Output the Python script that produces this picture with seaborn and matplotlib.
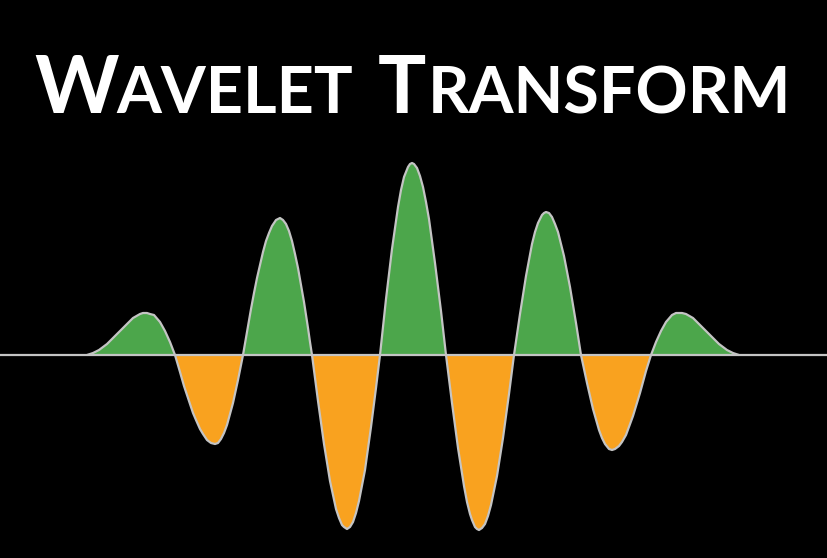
import matplotlib
matplotlib.use("Agg")
import matplotlib.pyplot as plt
import seaborn as sns
import pandas as pd

# Posições ao longo do tempo e amplitude da onda
posicao = [
    87, 93, 99, 107, 113, 119, 126, 133, 140, 143, 147, 150, 154, 160, 165, 170, 175,
    180, 184, 187, 190, 193, 196, 200, 203, 207, 211, 215, 218, 221, 224, 227, 230,
    233, 236, 238, 241, 243,
    248, 251, 254, 257, 260, 263, 266, 269, 272, 276, 280, 283, 286, 289, 292, 295,
    298, 301, 304, 306, 308, 310, 312,
    318, 324, 330, 336, 339, 342, 344, 347, 350, 353, 356, 359, 365, 371, 376, 380,
    386, 392, 398, 401, 404, 408, 410, 412, 414, 417, 420, 423, 426, 429, 435, 441, 446,
    452, 458, 464, 467, 470, 472, 475, 477, 479, 482, 485, 488, 491, 497, 503, 509, 514,
    520, 526, 532, 535, 538, 542, 544, 546, 549, 552, 555, 558, 564, 570, 576, 581,
    587, 593, 599, 602, 605, 609, 612, 615, 619, 622, 626, 633, 640, 646, 651,
    656, 661, 666, 672, 676, 679, 682, 686, 693, 700, 707, 713, 719, 727, 733, 739,
]
amplitude = [
    0, 2, 5, 11, 17, 23, 30, 37, 41, 42, 42, 41, 40, 33, 24, 13, 0,
    -17, -31, -40, -49, -58, -65, -74, -79, -85, -88, -89, -88, -84, -78, -70, -59,
    -48, -34, -25, -10, 0,
    29, 46, 62, 77, 90, 103, 114, 122, 129, 135, 137, 135, 131, 124, 114, 101,
    87, 70, 53, 40, 27, 13, 0,
    -46, -89, -126, -154, -163, -170, -172, -174, -172, -167, -158, -146, -115, -72, -33, 0,
    56, 106, 148, 165, 178, 188, 191, 192, 191, 187, 179, 168, 153, 136, 92, 44, 0,
    -48, -93, -131, -147, -159, -165, -172, -174, -175, -173, -169, -161, -150, -121, -83, -39, 0,
    41, 79, 111, 123, 132, 140, 142, 143, 142, 138, 131, 123, 99, 68, 32, 0,
    -28, -54, -75, -83, -89, -94, -95, -94, -91, -87, -80, -61, -38, -16, 0,
    13, 24, 33, 40, 42, 42, 42, 41, 37, 30, 23, 17, 11, 5, 2, 0,
]

# Título em versalete: (texto, letra grande?)
titulo = [("W", True), ("AVELET", False), ("T", True), ("RANSFORM", False)]
titulo_x = [34, 116, 378, 428]

cor_fundo = "#000000"
cor_verde = "#4ca64b"
cor_laranja = "#f9a21f"
cor_linha = "#c4c4c4"

df = pd.DataFrame({"posicao": posicao, "amplitude": amplitude})

sns.set_theme(style="white")
fig = plt.figure(figsize=(8.28, 5.58), dpi=100)
fig.patch.set_facecolor(cor_fundo)
ax = fig.add_axes([0, 0, 1, 1])
ax.set_facecolor(cor_fundo)

x = df["posicao"].to_numpy(dtype=float)
y = df["amplitude"].to_numpy(dtype=float)

# Preenchimento positivo (verde) e negativo (laranja)
ax.fill_between(x, 0, y, where=y >= 0, interpolate=True, color=cor_verde, linewidth=0)
ax.fill_between(x, 0, y, where=y <= 0, interpolate=True, color=cor_laranja, linewidth=0)

# Linha de base e contorno da onda
ax.axhline(0, color=cor_linha, linewidth=1.6, zorder=3)
sns.lineplot(data=df, x="posicao", y="amplitude", color=cor_linha, linewidth=1.6,
             sort=False, estimator=None, ax=ax, zorder=4)

ax.set_xlim(0, 828)
ax.set_ylim(-203, 355)
ax.set_axis_off()

# Título
base_y = 1 - 113 / 558
for (texto, grande), px in zip(titulo, titulo_x):
    fig.text(px / 828, base_y, texto, fontsize=58 if grande else 46.5,
             fontweight="bold", family=["Lato", "DejaVu Sans"],
             color="white", ha="left", va="baseline")

fig.savefig("out.png", dpi=100, facecolor=cor_fundo)
